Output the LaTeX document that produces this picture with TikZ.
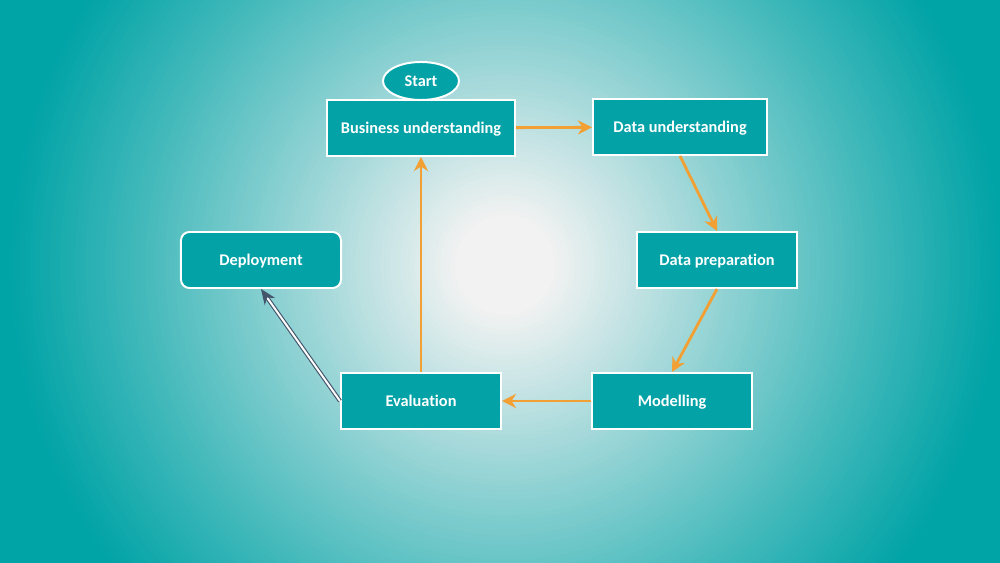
\documentclass[tikz,border=0pt]{standalone}
\usepackage{fontspec}
\setmainfont{Carlito}[Ligatures=NoCommon]
\usetikzlibrary{arrows.meta,shapes.geometric}
\definecolor{tealbg}{HTML}{00A3A6}
\definecolor{centrebg}{HTML}{F2F2F2}
\definecolor{boxfill}{HTML}{03A2A7}
\definecolor{flow}{HTML}{F2A033}
\definecolor{slate}{HTML}{44546A}

\begin{document}
\begin{tikzpicture}[x=0.025cm,y=-0.025cm,font=\bfseries\fontsize{11.6}{13}\selectfont,
    phase/.style={draw=white,line width=1.4pt,fill=boxfill,text=white,
        minimum height=1.4cm,minimum width=4cm,inner sep=2pt,text height=8.5pt,text depth=1pt},
    flowarrow/.style={draw=flow,line width=2pt,-{Stealth[length=10pt,width=10pt]}}]
    \useasboundingbox (0,0) rectangle (1000,563);
    % background
    \begin{scope}
        \clip (0,0) rectangle (1000,563);
        \foreach \r in {595,590,...,20} {
            \pgfmathsetmacro\mix{100*(max(0.001,min(1,(500-\r)/450)))^1.05}
            \fill[centrebg!\mix!tealbg] (505,265) circle[radius=\r];
        }
    \end{scope}
    % phases
    \node[phase,minimum width=4.7cm] (business) at (421,128) {Business understanding};
    \node[ellipse,draw=white,line width=1.4pt,fill=boxfill,text=white,
        minimum width=1.9cm,minimum height=0.95cm,inner sep=0pt] (start) at (421,81) {Start};
    \node[phase,minimum width=4.35cm] (dataund) at (680,127) {Data understanding};
    \node[phase] (dataprep) at (717,260) {Data preparation};
    \node[phase] (modelling) at (672,401) {Modelling};
    \node[phase] (evaluation) at (421,401) {Evaluation};
    \node[phase,rounded corners=6pt] (deployment) at (261,260) {Deployment};
    % cycle
    \draw[flowarrow] (business) -- (dataund);
    \draw[flowarrow] (dataund.south) -- (dataprep.north);
    \draw[flowarrow] (dataprep.south) -- (modelling.north);
    \draw[flowarrow] (modelling) -- (evaluation);
    \draw[flowarrow] (evaluation) -- (business);
    \draw[slate,line width=0.8pt,double=white,double distance=1.4pt,
        -{Stealth[length=11pt,width=9pt]}] (evaluation.west) -- (deployment.south);
\end{tikzpicture}
\end{document}
